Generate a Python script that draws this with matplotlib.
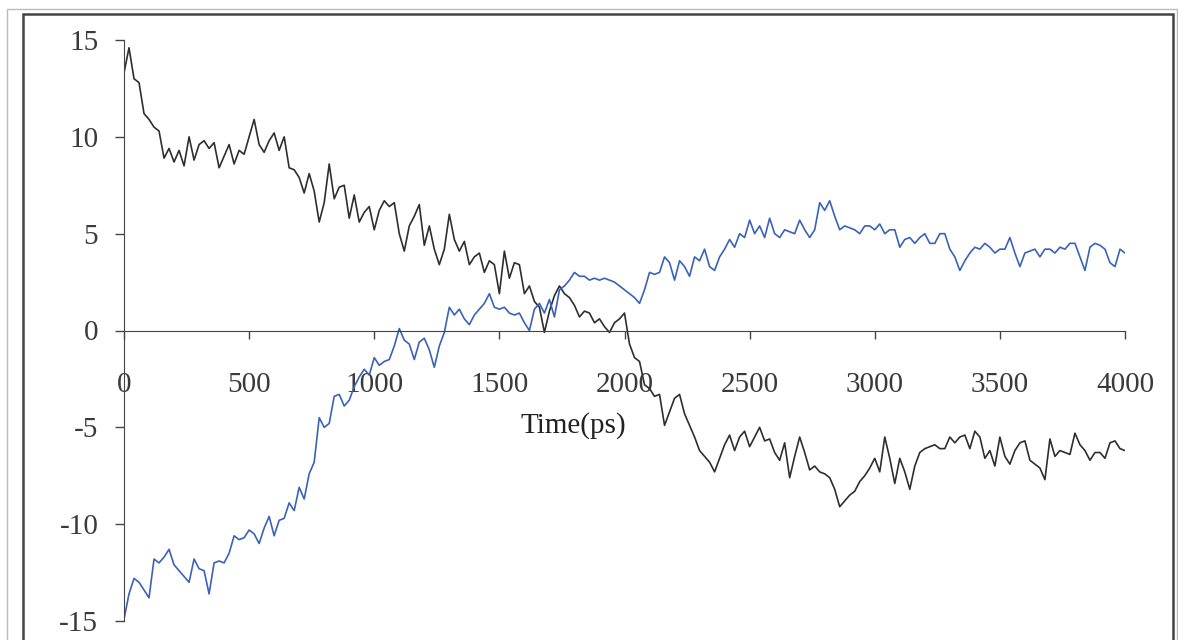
import numpy as np
import matplotlib.pyplot as plt
from matplotlib.patches import Rectangle

plt.rcParams['font.family'] = ['Liberation Serif', 'DejaVu Serif']

# time axis, one reading every 20 ps
time = np.arange(0, 4001, 20)

# black trace
black = [
    13.3, 14.6, 13.0, 12.8, 11.2, 10.9, 10.5, 10.3, 8.9, 9.4,
    8.7, 9.3, 8.5, 10.0, 8.8, 9.6, 9.8, 9.4, 9.7, 8.4,
    9.0, 9.6, 8.6, 9.3, 9.1, 10.0, 10.9, 9.6, 9.2, 9.8,
    10.2, 9.3, 10.0, 8.4, 8.3, 7.9, 7.1, 8.1, 7.2, 5.6,
    6.6, 8.6, 6.8, 7.4, 7.5, 5.8, 7.0, 5.6, 6.1, 6.4,
    5.2, 6.2, 6.7, 6.4, 6.6, 5.0, 4.1, 5.4, 5.9, 6.5,
    4.4, 5.4, 4.2, 3.4, 4.2, 6.0, 4.7, 4.1, 4.6, 3.4,
    3.8, 4.0, 3.0, 3.6, 3.4, 1.9, 4.1, 2.7, 3.5, 3.4,
    1.9, 2.3, 1.5, 1.2, -0.1, 1.0, 1.8, 2.3, 1.9, 1.7,
    1.3, 0.7, 1.0, 0.9, 0.4, 0.6, 0.2, -0.1, 0.4, 0.6,
    0.9, -0.7, -1.4, -1.6, -2.8, -3.0, -3.4, -3.3, -4.9, -4.2,
    -3.5, -3.3, -4.3, -4.9, -5.5, -6.2, -6.5, -6.8, -7.3, -6.6,
    -5.9, -5.4, -6.2, -5.5, -5.2, -6.0, -5.5, -5.0, -5.7, -5.6,
    -6.3, -6.7, -5.8, -7.6, -6.5, -5.5, -6.3, -7.2, -7.0, -7.3,
    -7.4, -7.6, -8.2, -9.1, -8.8, -8.5, -8.3, -7.8, -7.5, -7.1,
    -6.6, -7.3, -5.5, -6.6, -7.9, -6.6, -7.3, -8.2, -7.0, -6.3,
    -6.1, -6.0, -5.9, -6.1, -6.1, -5.5, -5.8, -5.5, -5.4, -6.1,
    -5.2, -5.5, -6.6, -6.2, -7.0, -5.5, -6.5, -6.9, -6.2, -5.8,
    -5.7, -6.7, -6.9, -7.1, -7.7, -5.6, -6.5, -6.2, -6.3, -6.4,
    -5.3, -5.9, -6.2, -6.7, -6.3, -6.3, -6.6, -5.8, -5.7, -6.1,
    -6.2,
]

# blue trace
blue = [
    -14.9, -13.6, -12.8, -13.0, -13.4, -13.8, -11.8, -12.0, -11.7, -11.3,
    -12.1, -12.4, -12.7, -13.0, -11.8, -12.3, -12.4, -13.6, -12.0, -11.9,
    -12.0, -11.5, -10.6, -10.8, -10.7, -10.3, -10.5, -11.0, -10.2, -9.6,
    -10.6, -9.8, -9.7, -8.9, -9.3, -8.1, -8.7, -7.4, -6.8, -4.5,
    -5.0, -4.8, -3.4, -3.3, -3.9, -3.6, -2.9, -2.4, -2.0, -2.3,
    -1.4, -1.8, -1.6, -1.5, -0.8, 0.1, -0.5, -0.7, -1.5, -0.6,
    -0.4, -1.0, -1.9, -0.8, -0.1, 1.2, 0.8, 1.1, 0.6, 0.3,
    0.8, 1.1, 1.4, 1.9, 1.2, 1.1, 1.2, 0.9, 0.8, 0.9,
    0.4, 0.0, 1.1, 1.4, 0.9, 1.6, 0.7, 2.1, 2.3, 2.6,
    3.0, 2.8, 2.8, 2.6, 2.7, 2.6, 2.7, 2.6, 2.5, 2.3,
    2.1, 1.9, 1.7, 1.4, 2.1, 3.0, 2.9, 3.0, 3.8, 3.5,
    2.6, 3.6, 3.3, 2.8, 3.8, 3.6, 4.2, 3.3, 3.1, 3.8,
    4.2, 4.7, 4.3, 5.0, 4.8, 5.7, 5.0, 5.4, 4.8, 5.8,
    5.0, 4.8, 5.2, 5.1, 5.0, 5.7, 5.2, 4.8, 5.2, 6.6,
    6.2, 6.7, 5.9, 5.2, 5.4, 5.3, 5.2, 5.0, 5.4, 5.4,
    5.2, 5.5, 5.0, 5.2, 5.2, 4.3, 4.7, 4.8, 4.5, 4.8,
    5.0, 4.5, 4.5, 5.0, 5.0, 4.2, 3.8, 3.1, 3.6, 4.0,
    4.3, 4.2, 4.5, 4.3, 4.0, 4.2, 4.2, 4.8, 4.0, 3.3,
    4.0, 4.1, 4.2, 3.8, 4.2, 4.2, 4.0, 4.3, 4.2, 4.5,
    4.5, 3.8, 3.1, 4.3, 4.5, 4.4, 4.2, 3.5, 3.3, 4.2,
    4.0,
]

xticks = [0, 500, 1000, 1500, 2000, 2500, 3000, 3500, 4000]
yticks = [15, 10, 5, 0, -5, -10, -15]
ytick_labels = ['15', '10', '5', '0', '-5', '-10', '-15']

W, H = 1178, 640
fig = plt.figure(figsize=(W / 100, H / 100), dpi=100)

# frame around the chart (Excel style)
fig.add_artist(Rectangle((7 / W, -0.1), (1177 - 7) / W, 1.1 - 9 / H,
                         transform=fig.transFigure, fill=False,
                         edgecolor='#bbbbbb', lw=1.0))
fig.add_artist(Rectangle((23 / W, -0.1), (1173 - 23) / W, 1.1 - 14 / H,
                         transform=fig.transFigure, fill=False,
                         edgecolor='#444444', lw=1.8))

ax = fig.add_axes([124 / W, 1 - 621 / H, (1125 - 124) / W, (621 - 40) / H])

ax.plot(time, black, color='#2e2e2e', lw=1.2)
ax.plot(time, blue, color='#3a62b6', lw=1.2)

ax.set_xlim(0, 4000)
ax.set_ylim(-15, 15)

for s in ['top', 'right']:
    ax.spines[s].set_visible(False)
ax.spines['bottom'].set_position(('data', 0))
ax.spines['bottom'].set_color('#444444')
ax.spines['left'].set_color('#444444')

ax.set_xticks(xticks)
ax.set_xticklabels([str(t) for t in xticks])
ax.set_yticks(yticks)
ax.set_yticklabels(ytick_labels)

ax.tick_params(axis='x', direction='out', length=6, width=1, color='#444444',
               pad=24, labelsize=21, labelcolor='#3a3a3a')
ax.tick_params(axis='y', direction='out', length=6.5, width=1, color='#444444',
               pad=12, labelsize=21, labelcolor='#3a3a3a')

ax.text(1795, -4.9, 'Time(ps)', ha='center', va='center', fontsize=21,
        color='#222222')

fig.savefig('out.png', dpi=100)
